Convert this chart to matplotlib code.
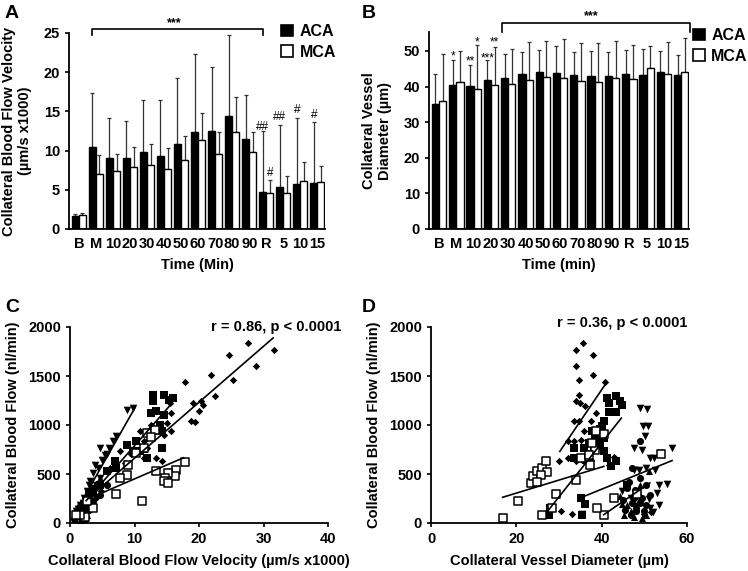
import numpy as np
import matplotlib.pyplot as plt
from matplotlib.patches import Patch

plt.rcParams['font.family'] = ['Liberation Sans', 'DejaVu Sans']
plt.rcParams['font.weight'] = 'bold'
plt.rcParams['axes.labelweight'] = 'bold'

# ---- bar data (panels A, B) ----
time_labels = ['B', 'M', '10', '20', '30', '40', '50', '60', '70', '80', '90', 'R', '5', '10', '15']

vel_aca = [1.6, 10.4, 9.1, 9.0, 9.8, 9.3, 10.9, 12.4, 12.5, 14.4, 11.5, 4.7, 5.3, 5.7, 5.9]
vel_aca_top = [1.9, 17.3, 14.2, 13.8, 16.4, 16.5, 19.3, 22.3, 20.7, 24.8, 17.1, 12.5, 13.3, 14.1, 13.7]
vel_mca = [1.8, 7.0, 7.4, 7.9, 8.2, 7.6, 8.8, 11.3, 9.6, 12.4, 9.8, 4.6, 4.6, 6.1, 6.0]
vel_mca_top = [2.0, 9.5, 9.6, 10.4, 10.9, 10.3, 11.9, 14.8, 12.4, 16.9, 12.4, 6.3, 6.7, 8.6, 8.0]

dia_aca = [35.2, 40.3, 40.2, 41.8, 42.5, 43.4, 44.1, 43.8, 43.3, 43.0, 43.0, 43.4, 43.3, 44.0, 43.1]
dia_aca_top = [43.4, 47.3, 46.0, 47.4, 49.1, 49.6, 50.2, 51.4, 49.6, 49.9, 49.7, 50.2, 50.5, 50.0, 48.8]
dia_mca = [35.9, 41.4, 39.4, 40.3, 40.7, 41.9, 42.8, 42.4, 41.5, 41.3, 42.3, 42.1, 45.2, 43.6, 44.1]
dia_mca_top = [49.0, 49.9, 51.6, 51.2, 50.5, 52.6, 52.9, 53.2, 52.2, 52.1, 52.9, 51.6, 51.5, 52.6, 53.6]

# significance marks: (group, bar side, y, text)
marks_a = [(11, 'aca', 13.0, '##'), (11, 'mca', 7.1, '#'), (12, 'aca', 14.3, '##'),
           (13, 'aca', 15.2, '#'), (14, 'aca', 14.5, '#')]
marks_b = [(1, 'aca', 48.3, '*'), (2, 'aca', 47.0, '**'), (2, 'mca', 52.3, '*'),
           (3, 'aca', 47.9, '***'), (3, 'mca', 52.3, '**')]

# ---- scatter data (panel C: velocity vs flow) ----
c_diamond_x = [27.6, 31.6, 24.7, 28.9, 21.8, 25.3, 17.8, 22.5, 19.1, 20.3, 20.6, 20.0, 18.7, 19.4, 15.7, 13.4,
               14.2, 15.5, 15.7, 11.4, 10.8, 12.6, 13.4, 14.5, 11.9, 7.7, 6.2, 5.7, 4.1, 3.1, 2.1, 11.4, 15.0,
               9.5, 8.6, 4.8]
c_diamond_y = [1837, 1762, 1711, 1605, 1507, 1463, 1439, 1299, 1224, 1248, 1200, 1146, 1037, 1031, 935, 663,
               629, 1224, 1122, 833, 935, 1003, 935, 901, 765, 731, 561, 391, 255, 153, 85, 663, 1020,
               700, 610, 330]
c_trid_x = [9.8, 8.9, 7.2, 6.7, 6.1, 4.6, 5.4, 3.9, 3.1, 2.6, 2.1, 1.5, 1.0, 4.6, 4.1, 3.4, 2.3, 5.0, 3.6, 2.8,
            1.8, 0.8, 5.8, 4.3, 3.0, 2.0, 1.2]
c_trid_y = [1173, 1156, 884, 833, 765, 765, 697, 595, 425, 323, 255, 187, 119, 459, 391, 357, 221, 640, 510, 300,
            170, 90, 700, 560, 390, 200, 140]
c_sqf_x = [12.9, 14.5, 16.0, 12.9, 15.3, 13.4, 12.6, 14.5, 13.9, 12.9, 10.3, 10.8, 14.2, 8.8, 7.0, 5.7, 4.6,
           11.9, 14.2, 9.8, 3.0, 2.2, 1.5, 7.2, 11.5, 2.6, 1.8, 3.5]
c_sqf_y = [1310, 1310, 1276, 1241, 1259, 1139, 1122, 1105, 1003, 935, 833, 731, 765, 799, 629, 527, 391,
           663, 935, 731, 280, 180, 110, 560, 760, 230, 140, 320]
c_sqo_x = [17.9, 16.5, 16.3, 15.2, 14.7, 14.5, 15.2, 13.4, 11.1, 7.2, 8.8, 7.7, 9.0, 11.9, 13.2, 10.3, 11.4,
           3.6, 2.3, 1.5, 1.0, 2.6, 12.5]
c_sqo_y = [622, 544, 476, 510, 459, 425, 408, 527, 228, 296, 493, 459, 595, 918, 952, 714, 765,
           153, 58, 85, 85, 221, 880]
c_triu_x = [0.8, 1.3, 1.8, 2.3, 2.8, 3.4, 4.1, 4.6, 1.5, 2.6, 1.1, 2.0]
c_triu_y = [51, 85, 119, 187, 255, 323, 391, 459, 34, 85, 160, 60]
c_circ_x = [1.0, 2.1, 2.7, 3.6, 4.6, 5.7, 1.8, 0.6, 3.0, 1.4, 2.4]
c_circ_y = [68, 102, 170, 221, 289, 391, 51, 40, 130, 110, 30]

# ---- scatter data (panel D: diameter vs flow) ----
d_diamond_x = [35.7, 34.1, 37.9, 34.0, 37.9, 34.7, 40.8, 34.6, 33.9, 34.9, 36.2, 33.4, 34.7, 37.4, 35.9, 35.1,
               32.0, 33.5, 30.0, 32.0, 34.1, 35.5, 38.6, 35.9, 37.4, 30.4, 33.1, 42.9, 41.7, 50.0, 51.5]
d_diamond_y = [1837, 1762, 1711, 1605, 1514, 1456, 1439, 1310, 1241, 1224, 1190, 1037, 1037, 1037, 935, 850,
               833, 833, 629, 663, 629, 646, 1122, 636, 646, 119, 92, 670, 595, 90, 110]
d_sqf_x = [41.3, 43.3, 44.4, 44.8, 41.7, 43.3, 41.7, 40.5, 40.1, 37.8, 39.1, 39.7, 40.5, 38.2, 35.9, 33.5,
           33.5, 40.5, 43.3, 42.1, 41.3, 35.1, 36.1, 35.5, 27.7, 28.0, 46.0, 38.5, 39.5, 37.0]
d_sqf_y = [1276, 1293, 1241, 1207, 1224, 1133, 1133, 1037, 986, 935, 850, 782, 731, 765, 765, 765,
           663, 867, 636, 578, 663, 255, 197, 85, 85, 153, 391, 880, 960, 820]
d_sqo_x = [16.8, 20.3, 23.4, 24.0, 24.9, 26.1, 26.9, 27.3, 25.7, 24.8, 29.2, 28.3, 26.1, 33.9, 35.2, 37.3,
           38.5, 37.8, 38.6, 40.5, 37.0, 40.5, 38.8, 42.9, 48.3, 53.8]
d_sqo_y = [51, 228, 408, 476, 527, 561, 629, 517, 493, 415, 296, 153, 78, 442, 663, 595,
           745, 816, 935, 908, 697, 85, 153, 255, 296, 704]
d_trid_x = [49.1, 50.6, 49.7, 50.8, 50.2, 47.5, 49.5, 53.8, 56.5, 52.2, 51.4, 47.5, 48.7, 50.3, 52.6, 53.4,
            55.3, 52.9, 53.4, 51.4, 35.4, 44.8, 46.8, 51.0, 47.8, 52.0]
d_trid_y = [1173, 1167, 986, 986, 884, 765, 748, 714, 765, 663, 663, 544, 544, 561, 544, 391,
            398, 306, 187, 153, 92, 323, 255, 240, 170, 110]
d_circ_x = [49.1, 47.2, 49.1, 46.0, 47.5, 49.1, 49.9, 48.0, 46.8, 51.4, 50.3, 45.5, 47.0, 48.5, 46.5, 50.5,
            48.0, 47.8, 49.5, 45.0]
d_circ_y = [840, 561, 459, 357, 255, 204, 119, 153, 85, 289, 391, 130, 200, 300, 420, 180,
            120, 340, 260, 230]
d_triu_x = [48.3, 44.8, 44.4, 49.1, 51.1, 46.8, 45.2, 49.5, 50.3, 46.0, 47.5, 48.8]
d_triu_y = [323, 194, 272, 391, 527, 119, 85, 51, 85, 187, 60, 230]

# regression lines: (slope, intercept, x start, x end)
c_fits = [(115.7, 11, 2.0, 10.1), (74.7, 41, 2.5, 15.7), (57.1, 90, 3.5, 31.5), (28.4, 166, 3.0, 17.6)]
d_fits = [(64.2, -1208, 30.2, 40.8), (55.0, -1383, 27.3, 44.6), (13.3, 39, 16.8, 40.5),
          (17.7, -363, 35.5, 56.5), (30.0, -1130, 40.5, 51.3)]

W, H = 748, 571
fig = plt.figure(figsize=(W / 100, H / 100), dpi=100)


def px_axes(l, r, b, t):
    return fig.add_axes([l / W, 1 - b / H, (r - l) / W, (b - t) / H])


def style(ax):
    for s in ['top', 'right']:
        ax.spines[s].set_visible(False)
    for s in ['left', 'bottom']:
        ax.spines[s].set_linewidth(1.3)
    ax.tick_params(axis='both', labelsize=10.5, width=1.2, length=3, direction='out')


def bar_panel(ax, aca, aca_top, mca, mca_top):
    x = np.arange(len(time_labels))
    w = 0.42
    aca = np.array(aca)
    mca = np.array(mca)
    ax.bar(x - w / 2, aca, w, color='black', edgecolor='black', linewidth=1, zorder=2)
    ax.bar(x + w / 2, mca, w, color='white', edgecolor='black', linewidth=1, zorder=2)
    ax.errorbar(x - w / 2, aca, yerr=[np.zeros_like(aca), np.array(aca_top) - aca], fmt='none',
                ecolor='#333333', elinewidth=0.9, capsize=1.5, capthick=0.9, zorder=1)
    ax.errorbar(x + w / 2, mca, yerr=[np.zeros_like(mca), np.array(mca_top) - mca], fmt='none',
                ecolor='#333333', elinewidth=0.9, capsize=1.5, capthick=0.9, zorder=1)
    ax.set_xticks(x)
    ax.set_xticklabels(time_labels)
    ax.tick_params(axis='x', length=0, pad=6)
    ax.set_xlim(-0.58, 14.45)
    return w


def legend(ax, x, y):
    handles = [Patch(facecolor='black', edgecolor='black', lw=1.2, label='ACA'),
               Patch(facecolor='white', edgecolor='black', lw=1.2, label='MCA')]
    ax.legend(handles=handles, loc='upper left', bbox_to_anchor=(x, y), frameon=False,
              handlelength=0.75, handleheight=0.75, handletextpad=0.4, labelspacing=0.35,
              borderaxespad=0, borderpad=0, prop={'size': 11.5, 'weight': 'bold'})


# Panel A
axA = px_axes(69, 325, 229, 33)
style(axA)
w = bar_panel(axA, vel_aca, vel_aca_top, vel_mca, vel_mca_top)
axA.set_ylim(0, 25)
axA.set_yticks([0, 5, 10, 15, 20, 25])
axA.set_xlabel('Time (Min)', fontsize=10.5, labelpad=5)
axA.set_ylabel('Collateral Blood Flow Velocity\n(µm/s x1000)', fontsize=10.5, labelpad=8)
axA.plot([0.79, 0.79, 10.79, 10.79], [24.8, 25.5, 25.5, 24.8], color='black', lw=1.2, clip_on=False)
axA.text(5.6, 26.2, '***', ha='center', va='center', fontsize=9)
for g, side, yv, t in marks_a:
    xv = g - w / 2 if side == 'aca' else g + w / 2
    axA.text(xv, yv, t, ha='center', va='center', fontsize=8.5, fontweight='normal')
legend(axA, 0.83, 1.045)
fig.text(5 / W, 1 - 13 / H, 'A', fontsize=14, fontweight='bold', va='center')

# Panel B
axB = px_axes(429, 689, 229, 32)
style(axB)
w = bar_panel(axB, dia_aca, dia_aca_top, dia_mca, dia_mca_top)
axB.set_ylim(0, 55.3)
axB.set_yticks([0, 10, 20, 30, 40, 50])
axB.set_xlabel('Time (min)', fontsize=10.5, labelpad=5)
axB.set_ylabel('Collateral Vessel\nDiameter (µm)', fontsize=10.5, labelpad=8)
axB.plot([3.65, 3.65, 14.5, 14.5], [55.3, 57.8, 57.8, 55.3], color='black', lw=1.2, clip_on=False)
axB.text(8.8, 59.8, '***', ha='center', va='center', fontsize=9)
for g, side, yv, t in marks_b:
    xv = g - w / 2 if side == 'aca' else g + w / 2
    axB.text(xv, yv, t, ha='center', va='center', fontsize=8.5, fontweight='normal')
legend(axB, 1.015, 1.02)
fig.text(362 / W, 1 - 13 / H, 'B', fontsize=14, fontweight='bold', va='center')


def scatter_panel(ax, groups, fits):
    for gx, gy, kw in groups:
        ax.scatter(gx, gy, zorder=3, clip_on=False, **kw)
    for slope, icpt, x0, x1 in fits:
        xs = np.array([x0, x1])
        ax.plot(xs, slope * xs + icpt, color='black', lw=1.2, zorder=4)
    ax.set_ylim(0, 2000)
    ax.set_yticks([0, 500, 1000, 1500, 2000])


diamond = dict(marker='D', s=14, c='black', linewidths=0)
sqf = dict(marker='s', s=34, c='black', linewidths=0)
sqo = dict(marker='s', s=30, facecolors='white', edgecolors='black', linewidths=1.1)
trid = dict(marker='v', s=30, c='black', linewidths=0)
triu = dict(marker='^', s=26, c='black', linewidths=0)
circ = dict(marker='o', s=26, c='black', linewidths=0)

# Panel C
axC = px_axes(70, 328, 523, 327)
style(axC)
scatter_panel(axC, [(c_triu_x, c_triu_y, triu), (c_circ_x, c_circ_y, circ),
                    (c_diamond_x, c_diamond_y, diamond), (c_trid_x, c_trid_y, trid),
                    (c_sqf_x, c_sqf_y, sqf), (c_sqo_x, c_sqo_y, sqo)], c_fits)
axC.set_xlim(0, 40)
axC.set_xticks([0, 10, 20, 30, 40])
axC.set_xlabel('Collateral Blood Flow Velocity (µm/s x1000)', fontsize=10.5, labelpad=6)
axC.set_ylabel('Collateral Blood Flow (nl/min)', fontsize=10.5, labelpad=6)
axC.text(42, 2000, 'r = 0.86, p < 0.0001', ha='right', va='center', fontsize=10.5)
fig.text(5 / W, 1 - 307 / H, 'C', fontsize=14, fontweight='bold', va='center')

# Panel D
axD = px_axes(431, 687, 523, 327)
style(axD)
scatter_panel(axD, [(d_triu_x, d_triu_y, triu), (d_circ_x, d_circ_y, circ),
                    (d_diamond_x, d_diamond_y, diamond), (d_trid_x, d_trid_y, trid),
                    (d_sqf_x, d_sqf_y, sqf), (d_sqo_x, d_sqo_y, sqo)], d_fits)
axD.set_xlim(0, 60)
axD.set_xticks([0, 20, 40, 60])
axD.set_xlabel('Collateral Vessel Diameter (µm)', fontsize=10.5, labelpad=6)
axD.set_ylabel('Collateral Blood Flow (nl/min)', fontsize=10.5, labelpad=6)
axD.text(44.8, 2040, 'r = 0.36, p < 0.0001', ha='center', va='center', fontsize=10.5)
fig.text(362 / W, 1 - 307 / H, 'D', fontsize=14, fontweight='bold', va='center')

fig.savefig('out.png', dpi=100)
